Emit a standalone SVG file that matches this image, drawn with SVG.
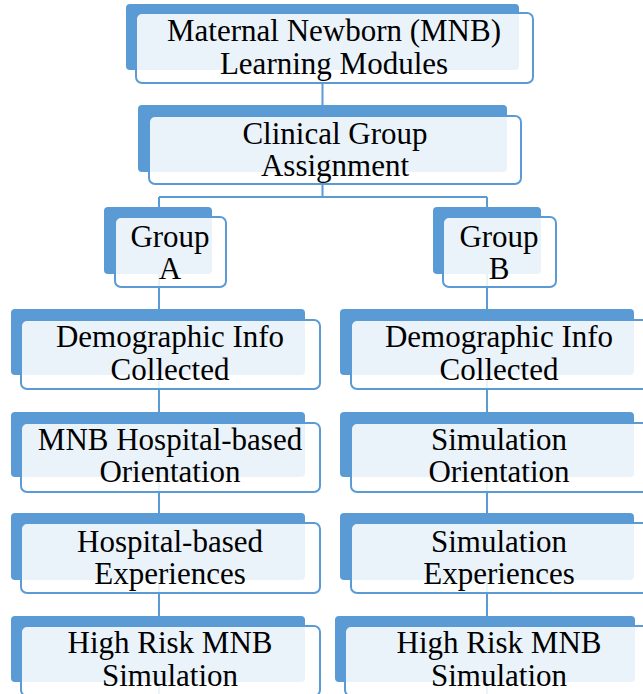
<svg xmlns="http://www.w3.org/2000/svg" width="643" height="694" viewBox="0 0 643 694">
<style>
.bk{fill:#5B9BD5}
.fr{fill:#FFFFFF;fill-opacity:0.88;stroke:#5B9BD5;stroke-width:2}
.cn{stroke:#5B9BD5;stroke-width:2;fill:none}
.t{font-family:'Times New Roman',Times,'Liberation Serif',Tinos,'Nimbus Roman','Nimbus Roman No9 L','FreeSerif','Noto Serif','DejaVu Serif',serif;font-size:31px;fill:#000000;text-anchor:middle}
</style>
<rect width="643" height="694" fill="#FFFFFF"/>
<g id="connectors">
<path class="cn" d="M322.5 70V197M159 197H487M159 197V694M487 197V694"/>
</g>
<g id="n-top">
<rect class="bk" x="126" y="4" width="393" height="66" rx="4"/>
<rect class="fr" x="136" y="13" width="397" height="70" rx="6"/>
<text class="t" x="334" y="41">Maternal Newborn (MNB)</text>
<text class="t" x="334" y="74">Learning Modules</text>
</g>
<g id="n-clinical">
<rect class="bk" x="138" y="105" width="369" height="67" rx="4"/>
<rect class="fr" x="149" y="116" width="372" height="68" rx="6"/>
<text class="t" x="335" y="144">Clinical Group</text>
<text class="t" x="335" y="176">Assignment</text>
</g>
<g id="n-groupA">
<rect class="bk" x="104" y="207" width="108" height="67" rx="4"/>
<rect class="fr" x="115" y="217" width="111" height="70" rx="6"/>
<text class="t" x="170" y="247">Group</text>
<text class="t" x="170" y="279">A</text>
</g>
<g id="n-groupB">
<rect class="bk" x="433" y="207" width="108" height="67" rx="4"/>
<rect class="fr" x="443" y="217" width="113" height="70" rx="6"/>
<text class="t" x="499" y="247">Group</text>
<text class="t" x="499" y="279">B</text>
</g>
<g id="n-a1">
<rect class="bk" x="11" y="309" width="294" height="66" rx="4"/>
<rect class="fr" x="21" y="320" width="299" height="69" rx="6"/>
<text class="t" x="170" y="347">Demographic Info</text>
<text class="t" x="170" y="380">Collected</text>
</g>
<g id="n-a2">
<rect class="bk" x="11" y="412" width="294" height="65" rx="4"/>
<rect class="fr" x="21" y="423" width="299" height="69" rx="6"/>
<text class="t" x="170" y="450">MNB Hospital-based</text>
<text class="t" x="170" y="482">Orientation</text>
</g>
<g id="n-a3">
<rect class="bk" x="11" y="513" width="294" height="67" rx="4"/>
<rect class="fr" x="21" y="523" width="299" height="70" rx="6"/>
<text class="t" x="170" y="552">Hospital-based</text>
<text class="t" x="170" y="584">Experiences</text>
</g>
<g id="n-a4">
<rect class="bk" x="11" y="616" width="294" height="66" rx="4"/>
<rect class="fr" x="21" y="626" width="299" height="70" rx="6"/>
<text class="t" x="170" y="653">High Risk MNB</text>
<text class="t" x="170" y="686">Simulation</text>
</g>
<g id="n-b1">
<rect class="bk" x="340" y="309" width="294" height="66" rx="4"/>
<rect class="fr" x="351" y="320" width="300" height="69" rx="6"/>
<text class="t" x="499" y="347">Demographic Info</text>
<text class="t" x="499" y="380">Collected</text>
</g>
<g id="n-b2">
<rect class="bk" x="340" y="412" width="294" height="65" rx="4"/>
<rect class="fr" x="351" y="423" width="300" height="69" rx="6"/>
<text class="t" x="499" y="450">Simulation</text>
<text class="t" x="499" y="482">Orientation</text>
</g>
<g id="n-b3">
<rect class="bk" x="340" y="513" width="294" height="67" rx="4"/>
<rect class="fr" x="351" y="523" width="300" height="70" rx="6"/>
<text class="t" x="499" y="552">Simulation</text>
<text class="t" x="499" y="584">Experiences</text>
</g>
<g id="n-b4">
<rect class="bk" x="335" y="616" width="300" height="66" rx="4"/>
<rect class="fr" x="345" y="626" width="310" height="70" rx="6"/>
<text class="t" x="499" y="653">High Risk MNB</text>
<text class="t" x="499" y="686">Simulation</text>
</g>
</svg>
